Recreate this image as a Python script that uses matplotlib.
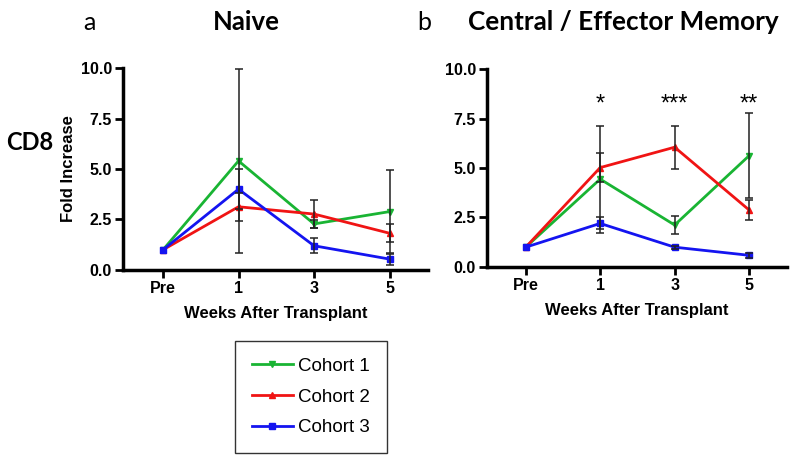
import numpy as np
import matplotlib
matplotlib.use('Agg')
import matplotlib.pyplot as plt
from matplotlib.lines import Line2D

# ==========================================
# Data (fold increase, mean and error)
# ==========================================
weeks = ['Pre', '1', '3', '5']
cohorts = ['Cohort 1', 'Cohort 2', 'Cohort 3']

naive_mean = {
    'Cohort 1': [1.0, 5.40, 2.28, 2.89],
    'Cohort 2': [1.0, 3.13, 2.77, 1.82],
    'Cohort 3': [1.0, 4.00, 1.20, 0.54],
}
naive_err = {
    'Cohort 1': [0.0, 4.55, 0.20, 2.06],
    'Cohort 2': [0.0, 0.70, 0.70, 0.45],
    'Cohort 3': [0.0, 0.98, 0.38, 0.27],
}
memory_mean = {
    'Cohort 1': [1.0, 4.44, 2.12, 5.62],
    'Cohort 2': [1.0, 5.02, 6.05, 2.88],
    'Cohort 3': [1.0, 2.20, 1.00, 0.59],
}
memory_err = {
    'Cohort 1': [0.0, 2.70, 0.43, 2.14],
    'Cohort 2': [0.0, 0.74, 1.08, 0.50],
    'Cohort 3': [0.0, 0.30, 0.08, 0.12],
}
stars = ['', '*', '***', '**']

colors = {'Cohort 1': '#19b433', 'Cohort 2': '#f01414', 'Cohort 3': '#1414f0'}
markers = {'Cohort 1': 'v', 'Cohort 2': '^', 'Cohort 3': 's'}

plt.rcParams['font.family'] = ['Liberation Sans', 'DejaVu Sans']
title_font = ['Lato', 'DejaVu Sans']

fig = plt.figure(figsize=(7.95, 4.57), dpi=100)
ax_a = fig.add_axes([0.1547, 0.4092, 0.3837, 0.442])
ax_b = fig.add_axes([0.6126, 0.4158, 0.3774, 0.4332])


def draw_panel(ax, means, errs, left):
    x = np.arange(len(weeks))
    for c in cohorts:
        ax.plot(x, means[c], color=colors[c], marker=markers[c], markersize=5,
                linewidth=2, zorder=3)
    for c in cohorts:
        m = np.array(means[c])
        e = np.array(errs[c])
        ax.errorbar(x[1:], m[1:], yerr=e[1:], fmt='none', ecolor='#222222',
                    elinewidth=1.1, capsize=3, capthick=1.1, zorder=4)
    ax.set_xlim(left, 3.51)
    ax.set_ylim(0, 10)
    ax.set_xticks(x)
    ax.set_xticklabels(weeks)
    ax.set_yticks([0, 2.5, 5.0, 7.5, 10.0])
    ax.set_yticklabels(['0.0', '2.5', '5.0', '7.5', '10.0'])
    for s in ['top', 'right']:
        ax.spines[s].set_visible(False)
    for s in ['left', 'bottom']:
        ax.spines[s].set_linewidth(2.5)
    ax.tick_params(width=2, length=6, labelsize=11.5, pad=2)
    for lbl in ax.get_xticklabels() + ax.get_yticklabels():
        lbl.set_fontweight('bold')
    ax.set_xlabel('Weeks After Transplant', fontsize=12, fontweight='bold', labelpad=7)


draw_panel(ax_a, naive_mean, naive_err, -0.53)
draw_panel(ax_b, memory_mean, memory_err, -0.52)
ax_a.set_ylabel('Fold Increase', fontsize=12, fontweight='bold', labelpad=3)

for i, s in enumerate(stars):
    if s:
        ax_b.text(i, 8.2, s, ha='center', va='center', fontsize=17)

# panel letters and titles
fig.text(89 / 795, 1 - 22 / 457, 'a', fontsize=18, family=title_font, ha='center', va='center')
fig.text(246 / 795, 1 - 22 / 457, 'Naive', fontsize=18.5, family=title_font,
         fontweight='bold', ha='center', va='center')
fig.text(424 / 795, 1 - 22 / 457, 'b', fontsize=18, family=title_font, ha='center', va='center')
fig.text(623 / 795, 1 - 22 / 457, 'Central / Effector Memory', fontsize=18.8,
         family=title_font, fontweight='bold', ha='center', va='center')
fig.text(30 / 795, 1 - 143 / 457, 'CD8', fontsize=17, family=title_font,
         fontweight='bold', ha='center', va='center')

# legend
handles = [Line2D([0], [0], color=colors[c], marker=markers[c], markersize=5, linewidth=2)
           for c in cohorts]
leg = fig.legend(handles, cohorts, loc='center', bbox_to_anchor=(311 / 795, 1 - 397 / 457),
                 frameon=True, fancybox=False, edgecolor='black', fontsize=13.5,
                 handlelength=2.2, handletextpad=0.3, labelspacing=0.72,
                 borderpad=0.9, borderaxespad=0)
leg.get_frame().set_linewidth(1.0)

fig.savefig('out.png', dpi=100)
